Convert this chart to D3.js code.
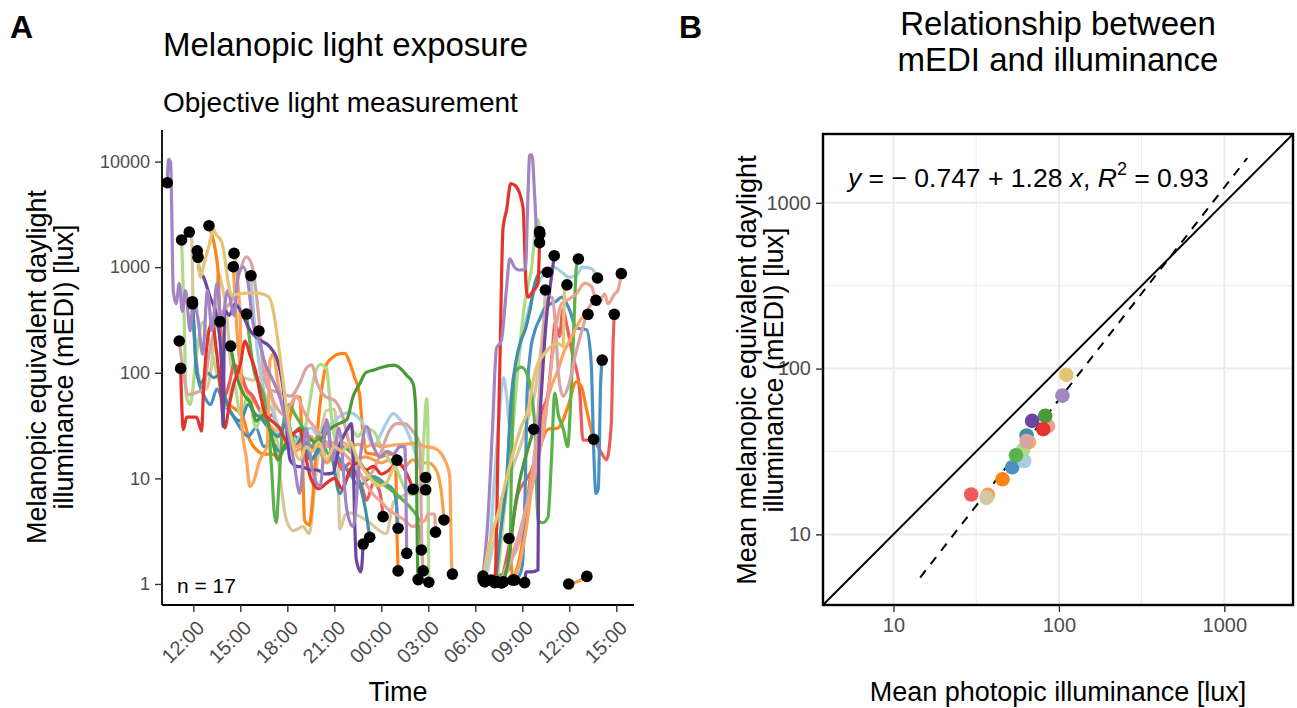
<!DOCTYPE html>
<html>
<head>
<meta charset="utf-8">
<script src="https://cdn.jsdelivr.net/npm/d3@7"></script>
<style>
  body { margin: 0; background: #fff; }
  text { font-family: "Liberation Sans", Arial, Helvetica, sans-serif; }
</style>
</head>
<body>
<svg id="chart" width="1297" height="708"></svg>
<script>
'use strict';

// participants, drawn in this order (later ones on top)
var ids = ['S12', 'S16', 'S08', 'S11', 'S02', 'S01', 'S04', 'S05', 'S03',
           'S10', 'S17', 'S07', 'S06', 'S09', 'S14', 'S13', 'S15'];
var colours = ['#f6a04c', '#d6c89e', '#ee5b5c', '#ff8316', '#4a91c3', '#a6cee3',
               '#aedb88', '#5cb24a', '#3f8fa6', '#fca55b', '#d9a4a4', '#eea294',
               '#4a9a3a', '#e3342b', '#6c45a0', '#a385c4', '#e3c475'];

// panel B: mean photopic illuminance and mean mEDI per participant [lux]
var meanPhotopic  = [37.2, 36.5, 29.5, 45.6, 52.2, 61.7, 60.8, 55.0, 63.8,
                     65.9, 63.8, 86.0, 82.6, 80.4, 68.9, 105, 111];
var meanMelanopic = [17.3, 16.6, 17.4, 21.5, 25.4, 27.7, 32.3, 30.0, 39.5,
                     36.0, 36.6, 45.0, 51.9, 43.1, 48.4, 68.7, 91.7];

// regression on log10 scale
var fitIntercept = -0.747;
var fitSlope = 1.28;
var fitR2 = 0.93;
var fitRange = [14.5, 1375];

// panel A: [hours since midnight of day 1, mEDI lux]; null separates the two days
var S01 = [[15.68,830],[15.9,300],[16.2,120],[16.6,60],[17.0,45],[17.5,30],[18.0,25],[18.5,22],[19.0,28],[19.5,30],[20.0,25],[20.5,30],[21.0,35],[21.5,40],[22.0,42],[22.5,38],[23.0,30],[23.5,20],[23.9,25],[24.3,33],[24.76,41],[25.2,36],[25.6,29],[26.03,20],[26.5,12],[26.83,7.8],
  null,[30.6,1.05],[30.9,2],[31.2,9],[31.5,35],[31.8,90],[32.0,60],[32.2,31],[32.5,60],[32.8,150],[33.2,300],[33.6,500],[34.0,700],[34.5,900],[35.0,1000],[35.5,900],[36.0,800],[36.5,850],[36.8,1000],[37.4,970],[37.6,900],[37.8,790]];
var S02 = [[11.95,450],[12.1,200],[12.3,90],[12.7,60],[13.1,50],[13.5,70],[14.0,50],[14.5,40],[15.0,30],[15.5,25],[16.0,30],[16.5,20],[17.0,22],[17.5,18],[18.0,20],[18.5,25],[19.0,20],[19.5,15],[20.0,18],[20.5,22],[21.0,18],[21.5,14],[22.0,11],[22.63,8.4],[23.0,9.5],[23.5,10.4],[24.2,9],[24.76,7.8],[24.95,6],[25.07,3.37],
  null,[32.5,1.09],[32.8,1.2],[33.0,1.5],[33.2,10],[33.3,60],[33.5,150],[33.8,250],[34.1,320],[34.4,400],[34.8,450],[35.2,480],[35.5,520],[36.0,400],[36.45,265],[37.1,255],[37.4,123],[37.55,20],[37.7,7.2],[37.85,8],[38.0,80],[38.1,132]];
var S03 = [[11.94,471],[12.05,250],[12.2,100],[12.5,80],[12.9,100],[13.3,90],[13.7,95],[14.0,60],[14.5,40],[15.0,35],[15.5,50],[16.0,40],[16.25,38],[16.9,28.7],[17.4,25],[18.0,35],[18.5,20],[19.0,25],[19.5,15],[20.0,20],[20.5,33],[20.9,15],[21.35,7.2],[21.8,10],[22.3,12],[22.7,8],[23.0,5],[23.26,2.77],
  null,[31.3,1.05],[31.6,3],[32.0,10],[32.3,60],[32.6,130],[32.9,200],[33.2,260],[33.5,400],[33.8,700],[34.2,900],[34.6,895]];
var S04 = [[11.25,1810],[11.4,400],[11.55,60],[11.8,50],[12.2,150],[12.6,300],[13.0,200],[13.5,100],[14.1,48],[14.6,80],[15.0,40],[15.5,60],[16.0,30],[16.5,50],[17.0,20],[17.5,30],[18.0,30],[18.8,20],[19.3,40],[19.7,90],[20.1,120],[20.5,110],[20.8,40],[21.2,20],[21.6,25],[22.0,30],[22.5,25],[23.0,30],[23.5,28],[24.0,20],[24.5,15],[25.0,12],[25.5,8],[26.0,7],[26.5,8],[26.9,57],[26.97,30],[27.03,1.04],
  null,[31.4,1.05],[31.7,3],[32.0,8],[32.4,30],[32.8,150],[33.1,400],[33.3,600],[33.6,1000],[33.9,2600],[34.0,2800],[34.12,2060]];
var S05 = [[15.4,360],[15.6,200],[15.9,100],[16.2,80],[16.5,60],[16.8,30],[17.0,12],[17.15,5],[17.3,3.8],[17.45,8],[17.7,30],[18.1,50],[18.5,40],[19.0,30],[19.5,20],[20.0,25],[20.5,18],[21.0,15],[21.5,20],[22.0,18],[22.5,15],[23.0,12],[23.5,10],[24.0,9],[24.5,8],[25.0,7],[25.5,6],[26.0,5],[26.4,4],[26.56,2.1],
  null,[31.02,1.09],[31.5,1.2],[32.0,1.3],[32.2,1.46],[32.3,10.4],[32.5,99],[32.94,113],[33.36,92],[33.8,31],[34.0,4.0],[34.3,3.8],[34.64,4.3],[34.86,15],[35.07,64],[35.3,40],[35.6,30],[35.9,20],[36.1,60],[36.3,300],[36.45,1000],[36.58,1196]];
var S06 = [[14.38,179],[14.6,120],[14.9,80],[15.3,60],[15.7,50],[16.0,35],[16.5,40],[17.0,25],[17.4,15],[17.8,20],[18.3,25],[18.8,30],[19.3,25],[19.8,22],[20.3,25],[20.8,30],[21.3,33],[21.8,36],[22.2,60],[22.63,79],[23.0,100],[23.5,106],[24.0,112],[24.75,118],[25.1,114],[25.6,95],[26.03,79],[26.2,44],[26.3,2],[26.35,1.1],
  null,[31.8,1.05],[32.2,2],[32.5,5],[32.8,9],[33.1,14],[33.4,20],[33.73,29.2]];
var S07 = [[16.19,249],[16.4,150],[16.7,90],[17.0,60],[17.4,45],[17.8,40],[18.2,50],[18.6,60],[19.0,45],[19.4,35],[19.8,30],[20.2,25],[20.6,20],[21.0,22],[21.5,18],[22.0,15],[22.5,12],[23.0,9],[23.5,7],[24.0,6],[24.5,5],[25.0,4.5],[25.5,4],[26.0,3.5],[26.5,3.8],[26.78,4.0],[27.0,4.6],[27.4,4.6],[27.46,3.1],
  null,[31.66,1.03],[32.0,1.5],[32.4,2],[32.8,3],[33.2,5],[33.6,8],[34.0,15],[34.4,30],[34.8,100],[35.2,300],[35.5,450],[36.0,500],[36.45,560],[36.98,705],[37.4,660],[37.83,440],[38.25,560],[38.47,450],[38.9,560],[39.1,600],[39.32,870]];
var S08 = [[13.7,305],[13.85,150],[14.0,60],[14.3,80],[14.6,120],[15.0,100],[15.4,70],[15.8,60],[16.2,45],[16.6,35],[17.0,40],[17.5,30],[18.0,25],[18.5,20],[19.0,22],[19.5,18],[20.0,25],[20.5,15],[21.0,18],[21.5,12],[22.0,14],[22.5,10],[22.8,8],[23.06,6.2],[23.5,9],[23.9,7.5],[24.11,4.34],
  null,[31.66,1.03],[31.9,1.5],[32.3,3],[32.73,7.2],[33.3,10],[33.8,15],[34.2,40],[34.64,64],[34.9,150],[35.1,300],[35.37,220],[35.6,400],[35.8,300],[36.2,150],[36.66,69],[36.87,23],[37.5,23],[38.0,18],[38.37,15],[38.68,33],[38.8,200],[38.87,358]];
var S09 = [[11.19,110],[11.36,29],[11.58,38],[12.2,38],[12.53,28],[12.64,64],[12.9,200],[13.2,300],[13.5,150],[13.7,80],[14.0,30],[14.3,50],[14.6,80],[15.0,120],[15.3,200],[15.6,150],[16.0,100],[16.3,60],[16.6,40],[17.0,35],[17.5,30],[18.0,22],[18.4,26.6],[18.8,28.7],[19.1,18],[19.5,10],[20.0,8],[20.5,9],[21.0,10],[21.5,8],[22.0,12],[22.5,14],[23.0,12],[23.5,13],[24.0,11],[24.5,12],[25.0,14],[25.5,12],[26.03,7.9],
  null,[31.23,1.03],[31.3,1.46],[31.45,20],[31.56,107],[31.77,2340],[32.0,3500],[32.26,6200],[32.56,5900],[33.04,3750],[33.26,610],[33.36,520],[33.7,600],[34.0,700],[34.1,1706]];
var S10 = [[14.6,1350],[14.8,800],[15.0,300],[15.1,31],[15.4,15],[15.6,8.4],[15.8,9],[16.25,15],[16.7,20],[16.9,132],[17.1,150],[17.4,80],[17.8,40],[18.2,25],[18.6,20],[19.0,22],[19.5,25],[20.0,20],[20.5,22],[21.0,20],[21.5,22],[22.0,20],[22.5,21],[23.0,20],[23.5,21],[24.0,20],[24.86,20.7],[25.5,21],[26.1,21.5],[26.8,20],[27.4,19.3],[28.05,15],[28.37,10.4],[28.5,1.36],[28.54,1.24],
  null,[32.4,1.09],[32.8,1.5],[33.2,3],[33.6,8],[34.0,20],[34.4,40],[34.8,70],[35.28,106],[35.6,150],[36.0,200],[36.4,260],[36.87,340],[37.19,358]];
var S11 = [[13.0,2470],[13.2,2000],[13.4,1460],[13.6,810],[13.7,255],[13.85,100],[14.0,60],[14.3,50],[14.7,45],[15.1,40],[15.6,23],[16.04,18.6],[16.5,17],[17.0,17],[17.4,16],[17.8,20],[18.2,40],[18.5,59],[18.8,59],[18.95,20],[19.1,4],[19.4,3.6],[19.6,6],[19.9,25],[20.2,70],[20.5,120],[20.9,140],[21.2,150],[21.67,153],[22.0,123],[22.3,90],[22.6,64],[22.8,30],[23.05,17.4],[23.5,17],[24.0,16],[24.5,17],[24.9,17],[25.0,3],[25.07,1.33],
  null,[32.15,2.7],[32.3,1.5],[32.4,1.1],[32.6,1.3],[32.9,2],[33.2,4],[33.5,10],[33.8,15],[34.2,21.5],[34.64,29.2],[35.28,30],[35.92,48],[36.45,82],[36.77,74],[37.1,45],[37.5,25],[37.55,23.5]];
var S12 = [[14.55,1010],[14.7,400],[14.9,150],[15.2,80],[15.6,60],[16.0,50],[16.5,40],[17.0,30],[17.5,25],[18.0,22],[18.5,18],[19.0,20],[19.5,15],[20.0,18],[20.5,14],[21.0,16],[21.5,13],[22.0,12],[22.5,15],[23.0,16],[23.5,15],[24.0,14],[24.5,15],[25.0,14],[25.5,13],[26.0,15],[26.5,14],[27.0,14],[27.5,12],[27.9,6],[28.0,4.04],
  null,[35.96,1.0],[36.5,1.05],[37.12,1.18]];
var S13 = [[10.34,6300],[10.42,10500],[10.55,9800],[10.72,600],[10.9,450],[11.1,700],[11.3,380],[11.5,600],[11.8,250],[12.0,500],[12.3,320],[12.6,150],[12.9,600],[13.2,250],[13.5,700],[13.8,300],[14.2,600],[14.6,350],[14.9,900],[15.2,1000],[15.5,700],[15.8,300],[16.2,200],[16.6,120],[17.0,90],[17.5,60],[18.0,30],[18.4,15],[18.8,7.2],[19.2,30],[19.6,12],[20.1,8.4],[20.5,36],[20.9,15],[21.3,30],[21.8,5],[22.2,3.5],[22.63,15],[23.06,31],[23.5,20],[23.9,16],[24.4,18],[24.76,17],[25.2,20],[25.5,20],[25.62,1.95],
  null,[30.49,1.19],[30.8,4],[31.1,30],[31.35,170],[31.66,200],[31.98,600],[32.2,1200],[32.5,1000],[32.8,940],[33.2,950],[33.36,4700],[33.47,11500],[33.62,11500],[33.79,4700],[33.96,1800],[34.1,2170]];
var S14 = [[12.25,1430],[12.4,900],[12.64,810],[13.06,525],[13.5,340],[13.8,123],[13.9,31],[14.0,390],[14.3,350],[14.66,450],[15.2,340],[15.6,255],[16.25,205],[16.9,175],[17.43,123],[17.8,60],[18.17,15],[18.6,13],[19.0,12.8],[19.5,12],[19.9,12],[20.4,11],[20.9,11.2],[21.3,20],[21.8,28.7],[22.1,33],[22.4,1.7],[22.7,1.3],[22.84,2.39],
  null,[33.15,1.03],[33.25,1.3],[33.6,1.3],[34.0,1.36],[34.05,15],[34.3,100],[34.6,400],[34.75,610],[35.04,1285]];
var S15 = [[12.3,1240],[12.45,800],[12.7,1100],[13.0,1600],[13.28,2250],[13.5,2000],[13.8,1750],[14.0,1250],[14.2,755],[14.45,545],[15.0,560],[15.6,570],[16.25,565],[16.8,525],[17.1,390],[17.4,200],[17.64,106],[18.0,40],[18.4,20],[18.8,15],[19.2,20],[19.6,18],[20.0,22],[20.5,15],[21.0,20],[21.5,18],[22.0,22],[22.5,15],[22.9,12],[23.3,10],[23.8,8.5],[24.3,9],[24.7,12],[25.0,14.9],
  null,[30.5,1.1],[30.7,1.7],[31.5,5],[32.3,15],[32.9,30],[33.36,44],[33.8,100],[34.43,153],[35.28,190],[35.6,177],[35.7,610],[35.85,680]];
var S16 = [[11.74,2150],[11.9,1800],[12.0,300],[12.2,120],[12.5,80],[12.8,70],[13.1,100],[13.4,300],[13.6,900],[13.8,700],[14.1,400],[14.4,120],[14.7,95],[15.2,90],[15.8,85],[16.3,90],[16.8,70],[17.2,40],[17.5,12],[17.95,4.0],[18.4,3.2],[19.0,3.5],[19.4,3.0],[19.8,10],[20.2,30],[20.5,44],[21.0,45],[21.2,20],[21.35,3.3],[21.7,4.5],[22.0,4.7],[23.06,4.0],[24.3,3.0],[24.8,6],[25.5,7],[26.2,8],[26.83,10.2],
  null,[30.6,1.05],[30.9,1.6],[31.4,3.5],[31.9,7.2],[32.4,13],[32.94,21.5],[33.4,38],[33.8,64],[34.1,132],[34.35,300],[34.47,608]];
var S17 = [[11.1,200],[11.3,120],[11.68,62],[12.2,65],[12.64,71],[13.0,150],[13.5,300],[14.0,400],[14.5,500],[15.0,940],[15.36,1250],[15.7,1090],[16.04,525],[16.25,255],[16.46,106],[16.8,70],[17.5,65],[18.2,60],[18.8,80],[19.2,110],[19.55,119],[19.9,80],[20.4,60],[21.0,55],[21.5,40],[22.0,20],[22.5,12],[23.0,10],[23.5,12],[24.0,18],[24.5,28],[25.0,33],[25.5,33],[26.0,28],[26.45,21.5],[26.6,2],[26.67,1.33],
  null,[31.7,1.03],[32.0,1.3],[32.4,1.8],[32.8,2.5],[33.2,5],[33.6,10],[34.0,40],[34.3,200],[34.6,500],[34.9,520],[35.1,300],[35.3,100],[35.6,60],[36.0,80],[36.4,150],[36.8,250],[37.2,400],[37.7,486]];

var seriesById = {S01: S01, S02: S02, S03: S03, S04: S04, S05: S05, S06: S06, S07: S07, S08: S08, S09: S09,
                  S10: S10, S11: S11, S12: S12, S13: S13, S14: S14, S15: S15, S16: S16, S17: S17};

// axis ticks
var hourTicks = [12, 15, 18, 21, 24, 27, 30, 33, 36, 39];
var hourLabels = ['12:00', '15:00', '18:00', '21:00', '00:00', '03:00', '06:00', '09:00', '12:00', '15:00'];
var luxTicksA = [1, 10, 100, 1000, 10000];
var luxTicksB = [10, 100, 1000];
var minorTicksB = [31.6228, 316.228];

var svg = d3.select('#chart');

// ---------- panel A ----------
var xA = d3.scaleLinear().domain([10.0, 40.13]).range([162, 634]);
var yA = d3.scaleLog().domain([0.6324, 19907]).range([605, 130]);

svg.append('clipPath').attr('id', 'clipA')
  .append('rect').attr('x', 162).attr('y', 124).attr('width', 472).attr('height', 481);

// split a series into its day segments
function segments(s) {
  var out = [], cur = [];
  s.forEach(function(p) {
    if (p === null) { if (cur.length) out.push(cur); cur = []; }
    else cur.push(p);
  });
  if (cur.length) out.push(cur);
  return out;
}

var line = d3.line()
  .x(function(d) { return xA(d[0]); })
  .y(function(d) { return yA(d[1]); })
  .curve(d3.curveMonotoneX);

var gLines = svg.append('g').attr('clip-path', 'url(#clipA)');
var ends = [];
ids.forEach(function(id, i) {
  segments(seriesById[id]).forEach(function(seg) {
    gLines.append('path')
      .attr('d', line(seg))
      .attr('fill', 'none')
      .attr('stroke', colours[i])
      .attr('stroke-width', 3.2)
      .attr('stroke-linejoin', 'round')
      .attr('stroke-linecap', 'round');
    ends.push(seg[0], seg[seg.length - 1]);
  });
});

gLines.selectAll('.end').data(ends).enter().append('circle')
  .attr('class', 'end')
  .attr('cx', function(d) { return xA(d[0]); })
  .attr('cy', function(d) { return yA(d[1]); })
  .attr('r', 5.8)
  .attr('fill', '#000');

var axA = svg.append('g').attr('transform', 'translate(162,0)')
  .call(d3.axisLeft(yA).tickValues(luxTicksA).tickFormat(d3.format('d')).tickSize(7).tickPadding(5));
var axAx = svg.append('g').attr('transform', 'translate(0,605)')
  .call(d3.axisBottom(xA).tickValues(hourTicks).tickFormat('').tickSize(7));
[axA, axAx].forEach(function(a) {
  a.select('.domain').attr('stroke', '#000').attr('stroke-width', 1.8);
  a.selectAll('.tick line').attr('stroke', '#333').attr('stroke-width', 1.4);
  a.selectAll('.tick text').attr('fill', '#4d4d4d').style('font-size', '18px');
});
axA.select('.domain').attr('d', 'M0,130V605');
axAx.select('.domain').attr('d', 'M162,0H634');

svg.append('g').selectAll('text').data(hourTicks).enter().append('text')
  .attr('transform', function(d) { return 'translate(' + (xA(d) + 2) + ',619) rotate(-45)'; })
  .attr('text-anchor', 'end')
  .attr('dy', '0.72em')
  .attr('fill', '#4d4d4d')
  .style('font-size', '20px')
  .text(function(d, i) { return hourLabels[i]; });

svg.append('text').attr('x', 177).attr('y', 593).style('font-size', '21px')
  .text('n = ' + ids.length);

svg.append('text').attr('x', 163).attr('y', 56).style('font-size', '33px').text('Melanopic light exposure');
svg.append('text').attr('x', 163).attr('y', 112).style('font-size', '28px').text('Objective light measurement');
svg.append('text').attr('x', 398).attr('y', 701).attr('text-anchor', 'middle').style('font-size', '27px').text('Time');

var yTitleA = svg.append('text').attr('transform', 'translate(0,367) rotate(-90)')
  .attr('text-anchor', 'middle').style('font-size', '27px');
yTitleA.append('tspan').attr('x', 0).attr('y', 46).text('Melanopic equivalent daylight');
yTitleA.append('tspan').attr('x', 0).attr('y', 73).text('illuminance (mEDI) [lux]');

svg.append('text').attr('x', 10).attr('y', 38).style('font-size', '32px').style('font-weight', 'bold').text('A');
svg.append('text').attr('x', 679).attr('y', 38).style('font-size', '32px').style('font-weight', 'bold').text('B');

// ---------- panel B ----------
var xB = d3.scaleLog().domain([3.75, 2600]).range([823, 1293]);
var yB = d3.scaleLog().domain([3.75, 2600]).range([605, 134]);

var grid = svg.append('g');
minorTicksB.forEach(function(v) {
  grid.append('line').attr('x1', xB(v)).attr('x2', xB(v)).attr('y1', 134).attr('y2', 605)
    .attr('stroke', '#ebebeb').attr('stroke-width', 1);
  grid.append('line').attr('x1', 823).attr('x2', 1293).attr('y1', yB(v)).attr('y2', yB(v))
    .attr('stroke', '#ebebeb').attr('stroke-width', 1);
});
luxTicksB.forEach(function(v) {
  grid.append('line').attr('x1', xB(v)).attr('x2', xB(v)).attr('y1', 134).attr('y2', 605)
    .attr('stroke', '#ebebeb').attr('stroke-width', 2);
  grid.append('line').attr('x1', 823).attr('x2', 1293).attr('y1', yB(v)).attr('y2', yB(v))
    .attr('stroke', '#ebebeb').attr('stroke-width', 2);
});

svg.append('clipPath').attr('id', 'clipB')
  .append('rect').attr('x', 823).attr('y', 134).attr('width', 470).attr('height', 471);
var gB = svg.append('g').attr('clip-path', 'url(#clipB)');

var dom = xB.domain();
gB.append('line')
  .attr('x1', xB(dom[0])).attr('y1', yB(dom[0]))
  .attr('x2', xB(dom[1])).attr('y2', yB(dom[1]))
  .attr('stroke', '#000').attr('stroke-width', 2);

function fit(x) { return Math.pow(10, fitIntercept + fitSlope * Math.log10(x)); }
gB.append('line')
  .attr('x1', xB(fitRange[0])).attr('y1', yB(fit(fitRange[0])))
  .attr('x2', xB(fitRange[1])).attr('y2', yB(fit(fitRange[1])))
  .attr('stroke', '#000').attr('stroke-width', 2).attr('stroke-dasharray', '9,8');

gB.selectAll('.pt').data(ids).enter().append('circle')
  .attr('class', 'pt')
  .attr('cx', function(d, i) { return xB(meanPhotopic[i]); })
  .attr('cy', function(d, i) { return yB(meanMelanopic[i]); })
  .attr('r', 7.3)
  .attr('fill', function(d, i) { return colours[i]; });

svg.append('rect').attr('x', 823).attr('y', 134).attr('width', 470).attr('height', 471)
  .attr('fill', 'none').attr('stroke', '#000').attr('stroke-width', 2.4);

var axBy = svg.append('g').attr('transform', 'translate(823,0)')
  .call(d3.axisLeft(yB).tickValues(luxTicksB).tickFormat(d3.format('d')).tickSize(7).tickPadding(5));
var axBx = svg.append('g').attr('transform', 'translate(0,605)')
  .call(d3.axisBottom(xB).tickValues(luxTicksB).tickFormat(d3.format('d')).tickSize(7).tickPadding(6));
[axBy, axBx].forEach(function(a) {
  a.select('.domain').remove();
  a.selectAll('.tick line').attr('stroke', '#333').attr('stroke-width', 1.4);
  a.selectAll('.tick text').attr('fill', '#4d4d4d').style('font-size', '20px');
});

var eq = svg.append('text').attr('x', 848).attr('y', 187).style('font-size', '26.5px');
eq.append('tspan').style('font-style', 'italic').text('y');
eq.append('tspan').text(' = \u2212 ' + Math.abs(fitIntercept) + ' + ' + fitSlope + ' ');
eq.append('tspan').style('font-style', 'italic').text('x');
eq.append('tspan').text(', ');
eq.append('tspan').style('font-style', 'italic').text('R');
eq.append('tspan').attr('dy', -12).style('font-size', '18px').text('2');
eq.append('tspan').attr('dy', 12).text(' = ' + fitR2);

var tB = svg.append('text').attr('text-anchor', 'middle').style('font-size', '33px');
tB.append('tspan').attr('x', 1058).attr('y', 35).text('Relationship between');
tB.append('tspan').attr('x', 1058).attr('y', 71).text('mEDI and illuminance');

svg.append('text').attr('x', 1058).attr('y', 701).attr('text-anchor', 'middle').style('font-size', '27px')
  .text('Mean photopic illuminance [lux]');

var yTitleB = svg.append('text').attr('transform', 'translate(0,370) rotate(-90)')
  .attr('text-anchor', 'middle').style('font-size', '27px');
yTitleB.append('tspan').attr('x', 0).attr('y', 756).text('Mean melanopic equivalent daylight');
yTitleB.append('tspan').attr('x', 0).attr('y', 783).text('illuminance (mEDI) [lux]');
</script>
</body>
</html>
